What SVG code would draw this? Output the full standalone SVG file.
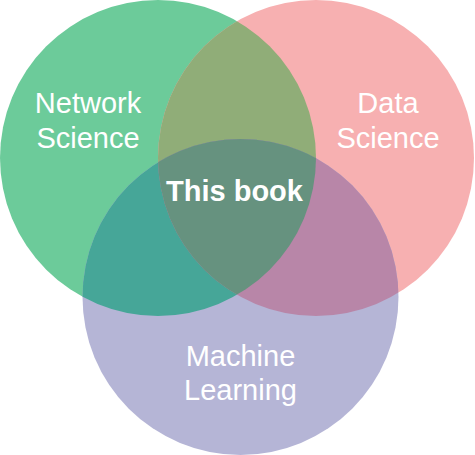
<svg xmlns="http://www.w3.org/2000/svg" width="475" height="455" viewBox="0 0 475 455">
<defs>
<style>
.lbl{font-family:"Liberation Sans",Arial,sans-serif;font-size:29px;fill:#ffffff;text-anchor:middle}
.bold{font-weight:bold}
</style>
<clipPath id="cG"><circle cx="158" cy="158" r="158"/></clipPath>
<clipPath id="cP"><circle cx="316" cy="158" r="158"/></clipPath>
<clipPath id="cU"><circle cx="240.5" cy="297" r="158"/></clipPath>
</defs>
<rect width="475" height="455" fill="#ffffff"/>
<g id="network-science">
<circle cx="158" cy="158" r="158" fill="#6ccb9a"/>
</g>
<g id="data-science">
<circle cx="316" cy="158" r="158" fill="#f7b0b1"/>
</g>
<g id="machine-learning">
<circle cx="240.5" cy="297" r="158" fill="#b5b5d6"/>
</g>
<g id="overlaps">
<circle cx="316" cy="158" r="158" fill="#90ad78" clip-path="url(#cG)"/>
<circle cx="240.5" cy="297" r="158" fill="#46a698" clip-path="url(#cG)"/>
<circle cx="240.5" cy="297" r="158" fill="#b886a8" clip-path="url(#cP)"/>
<g clip-path="url(#cG)">
<circle cx="240.5" cy="297" r="158" fill="#66927f" clip-path="url(#cP)"/>
</g>
</g>
<g id="labels">
<text class="lbl" x="88" y="113">Network</text>
<text class="lbl" x="88" y="148">Science</text>
<text class="lbl" x="388" y="113">Data</text>
<text class="lbl" x="388" y="148">Science</text>
<text class="lbl" x="240.5" y="366">Machine</text>
<text class="lbl" x="240.5" y="400">Learning</text>
<text class="lbl bold" x="234.5" y="201">This book</text>
</g>
</svg>
